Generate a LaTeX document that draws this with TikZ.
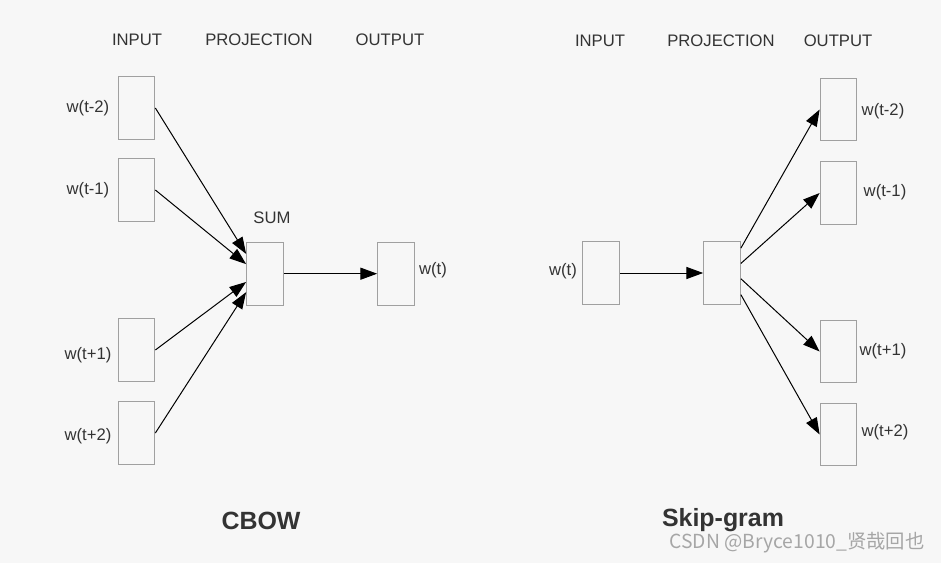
\documentclass[tikz,border=0pt]{standalone}
\usepackage{fontspec}
\setmainfont{Liberation Sans}
\newfontfamily\cjk{Noto Sans CJK SC}
\usepackage{tikz}
\usetikzlibrary{calc,arrows.meta,positioning}
\definecolor{bggray}{HTML}{F7F7F7}
\definecolor{boxgray}{HTML}{A0A0A0}
\definecolor{txtgray}{HTML}{333333}

\tikzset{
  wordbox/.style={draw=boxgray,line width=0.8pt,minimum width=27.5pt,minimum height=47pt,inner sep=0pt},
  lbl/.style={text=txtgray,font=\fontsize{12.5}{15}\selectfont,inner sep=0pt},
  title/.style={text=txtgray,font=\fontsize{18.7}{22}\selectfont\bfseries,inner sep=0pt},
  link/.style={line width=0.75pt,-{Triangle[length=12.5pt,width=9pt]}}
}

\begin{document}
\begin{tikzpicture}[x=0.75pt,y=-0.75pt]
    \fill[bggray] (0,0) rectangle (941,563);
    \useasboundingbox (0,0) rectangle (941,563);

    % CBOW
    \node [lbl] (h1) at (137,40) {INPUT};
    \node [lbl] (h2) at (259,40) {PROJECTION};
    \node [lbl] (h3) at (390,40) {OUTPUT};

    \node [wordbox] (in1) at (136.5,108) {};
    \node [wordbox] (in2) at (136.5,190) {};
    \node [wordbox] (in3) at (136.5,350) {};
    \node [wordbox] (in4) at (136.5,433) {};
    \node [lbl] at (88,108) {w(t-2)};
    \node [lbl] at (88,190) {w(t-1)};
    \node [lbl] at (88,355) {w(t+1)};
    \node [lbl] at (88,436) {w(t+2)};

    \node [wordbox] (sum) at (265,273.7) {};
    \node [lbl] at (272,218) {SUM};
    \node [wordbox] (out) at (396,273.7) {};
    \node [lbl] at (433,270) {w(t)};

    \foreach \i/\f in {1/0.19,2/0.35,3/0.63,4/0.79}
      \draw [link] (in\i.east) -- ($(sum.north west)!\f!(sum.south west)$);
    \draw [link] (sum.east) -- (out.west);

    \node [title] at (261,521) {CBOW};

    % Skip-gram
    \node [lbl] (g1) at (600,41) {INPUT};
    \node [lbl] (g2) at (721,41) {PROJECTION};
    \node [lbl] (g3) at (838,41) {OUTPUT};

    \node [wordbox] (win) at (601,273) {};
    \node [lbl] at (563,271) {w(t)};
    \node [wordbox] (proj) at (722,273) {};

    \node [wordbox] (o1) at (838.5,109.5) {};
    \node [wordbox] (o2) at (838.5,193) {};
    \node [wordbox] (o3) at (838.5,351.5) {};
    \node [wordbox] (o4) at (838.5,434.5) {};
    \node [lbl] at (883,111) {w(t-2)};
    \node [lbl] at (885,192) {w(t-1)};
    \node [lbl] at (883,351) {w(t+1)};
    \node [lbl] at (885,432) {w(t+2)};

    \draw [link] (win.east) -- (proj.west);
    \foreach \i/\f in {1/0.11,2/0.35,3/0.59,4/0.84}
      \draw [link] ($(proj.north east)!\f!(proj.south east)$) -- (o\i.west);

    \node [title] at (723,520) {Skip-gram};
    \node [text=gray!70,font=\cjk\fontsize{14.5}{16}\selectfont,inner sep=0pt] at (797,543) {CSDN @Bryce1010\_贤哉回也};

  \end{tikzpicture}
\end{document}
